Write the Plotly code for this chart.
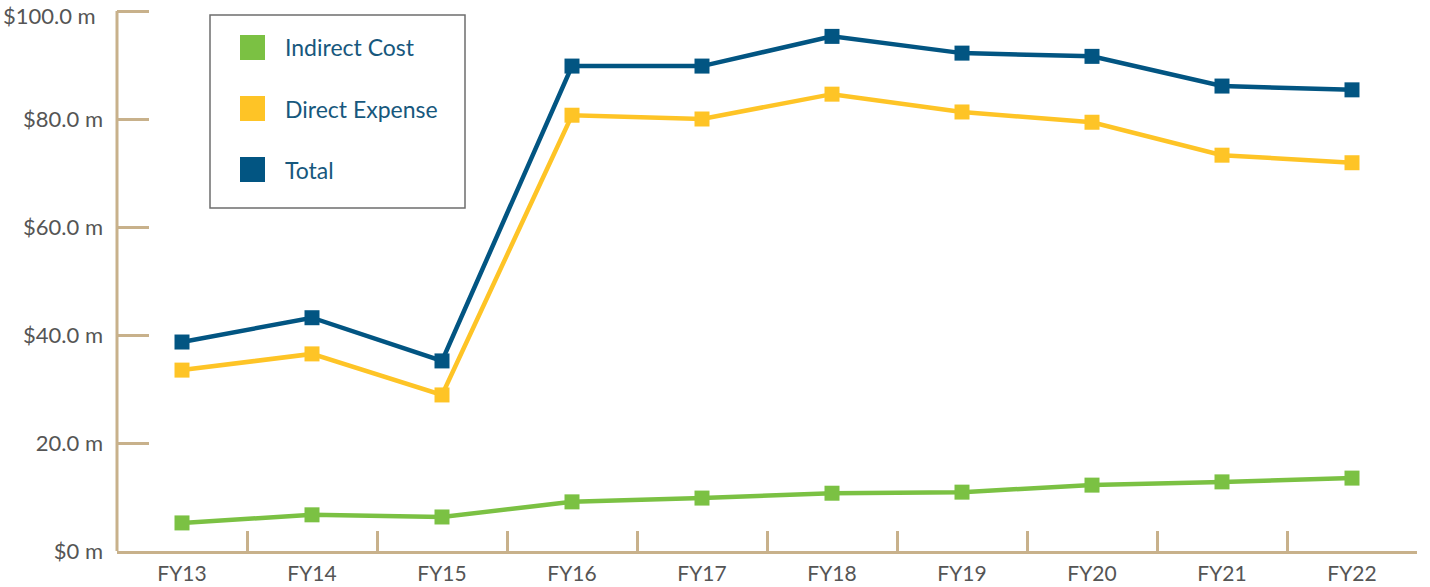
import plotly.graph_objects as go

years = ["FY13", "FY14", "FY15", "FY16", "FY17", "FY18", "FY19", "FY20", "FY21", "FY22"]
indirect_cost = [5.2, 6.7, 6.3, 9.1, 9.8, 10.7, 10.9, 12.2, 12.8, 13.5]
direct_expense = [33.5, 36.5, 28.9, 80.7, 80.0, 84.6, 81.3, 79.4, 73.3, 71.9]
total = [38.7, 43.2, 35.2, 89.8, 89.8, 95.3, 92.2, 91.6, 86.1, 85.4]

y_tickvals = [0, 20, 40, 60, 80, 100]
y_ticktext = ["$0 m", "20.0 m", "$40.0 m", "$60.0 m", "$80.0 m", "$100.0 m"]

GREEN = "#7bc143"
YELLOW = "#fec426"
BLUE = "#025582"
TAN = "#c8b18b"
TEXT = "#555555"
LEGEND_TEXT = "#17587d"
FONT = "Lato, Open Sans, sans-serif"

W, H = 1430, 587
L, R, T, B = 117, 13, 5, 36
PW, PH = W - L - R, H - T - B
Y_TOP = 100 + 6 / 5.4  # a little headroom so the 100 tick sits inside the axis range

series = [
    ("Indirect Cost", indirect_cost, GREEN),
    ("Direct Expense", direct_expense, YELLOW),
    ("Total", total, BLUE),
]

fig = go.Figure()
for name, vals, color in series:
    fig.add_trace(go.Scatter(
        x=years, y=vals, name=name, mode="lines+markers",
        line=dict(color=color, width=4.5),
        marker=dict(symbol="square", size=15, color=color),
        cliponaxis=False, showlegend=False,
    ))


def px_x(px):
    return (px - L) / PW


def px_y(py):
    return (H - B - py) / PH


# vertical axis line, stopping at the 100 tick
shapes = [dict(type="line", xref="paper", yref="y", x0=0, x1=0, y0=0, y1=100,
               line=dict(color=TAN, width=3), layer="above")]

# legend panel
shapes.append(dict(type="rect", xref="paper", yref="paper",
                   x0=px_x(210), x1=px_x(465), y0=px_y(208), y1=px_y(15),
                   line=dict(color="#6e6e6e", width=1.5), fillcolor="white", layer="above"))
annotations = []
for i, (name, _, color) in enumerate(series):
    cy = 47.5 + i * 61
    shapes.append(dict(type="rect", xref="paper", yref="paper",
                       x0=px_x(240), x1=px_x(265), y0=px_y(cy + 12.5), y1=px_y(cy - 12.5),
                       line=dict(width=0), fillcolor=color, layer="above"))
    annotations.append(dict(xref="paper", yref="paper", x=px_x(283), y=px_y(cy),
                            text=name, showarrow=False, xanchor="left", yanchor="middle",
                            font=dict(family=FONT, size=23, color=LEGEND_TEXT)))

# the top label sits a little below its tick so it stays inside the page
annotations.append(dict(xref="paper", yref="y", x=px_x(98), y=y_tickvals[-1], yshift=-4,
                        text=y_ticktext[-1], showarrow=False, xanchor="right", yanchor="middle",
                        font=dict(family=FONT, size=22, color=TEXT)))
axis_ticktext = y_ticktext[:-1] + [""]

fig.update_layout(
    width=W, height=H,
    margin=dict(l=L, r=R, t=T, b=B, pad=0),
    paper_bgcolor="white", plot_bgcolor="white",
    shapes=shapes, annotations=annotations,
    font=dict(family=FONT, size=21, color=TEXT),
    xaxis=dict(
        type="category", range=[-0.5, 9.5], automargin=False,
        showgrid=False, zeroline=False,
        showline=True, linecolor=TAN, linewidth=3,
        ticks="inside", tickson="boundaries", ticklen=20, tickwidth=2.5, tickcolor=TAN,
        ticklabelstandoff=2,
        tickfont=dict(family=FONT, size=21, color=TEXT),
    ),
    yaxis=dict(
        range=[0, Y_TOP], automargin=False, showgrid=False, zeroline=False,
        showline=False,
        ticks="inside", ticklen=32, tickwidth=2.5, tickcolor=TAN,
        tickvals=y_tickvals, ticktext=axis_ticktext,
        ticklabelstandoff=13, ticklabeloverflow="allow",
        tickfont=dict(family=FONT, size=22, color=TEXT),
    ),
)

fig.write_html("out.html")
